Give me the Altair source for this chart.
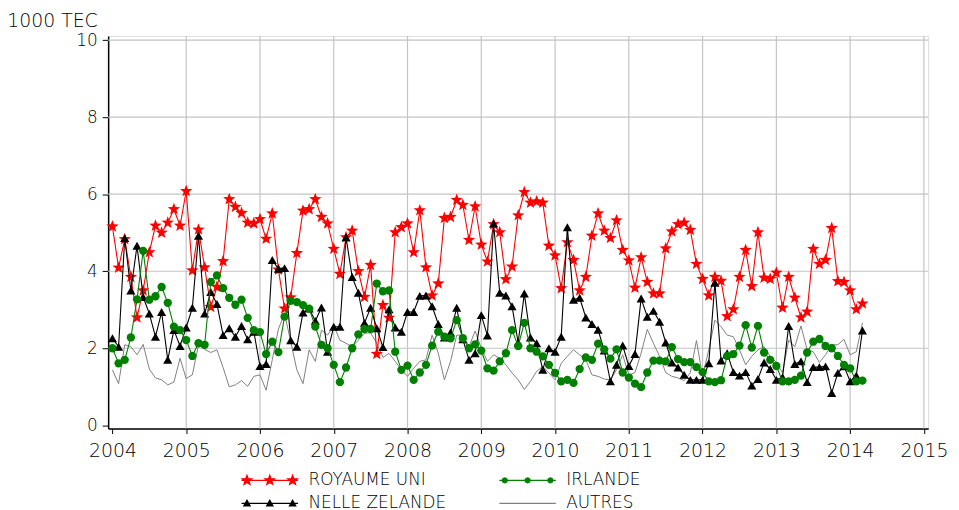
import math
import altair as alt
import pandas as pd

# ---------------- data (1000 TEC, monthly, Jan 2004 -> Mar 2014) ----------------
premier_annee = 2004

royaume_uni = [5.16, 4.09, 4.83, 3.85, 2.80, 3.50, 4.49, 5.18, 5.00, 5.26, 5.61, 5.18,
               6.08, 4.02, 5.08, 4.10, 3.07, 3.59, 4.26, 5.87, 5.67, 5.51, 5.26, 5.24,
               5.35, 4.84, 5.50, 4.04, 3.03, 3.32, 4.47, 5.57, 5.61, 5.87, 5.41, 5.24,
               4.58, 3.93, 4.88, 5.05, 4.00, 3.33, 4.16, 1.85, 3.12, 2.79, 5.01, 5.14,
               5.24, 4.49, 5.58, 4.10, 3.37, 3.68, 5.38, 5.41, 5.85, 5.72, 4.81, 5.68,
               4.69, 4.25, 5.22, 5.01, 3.79, 4.12, 5.45, 6.05, 5.78, 5.81, 5.78, 4.66,
               4.41, 3.56, 4.75, 4.29, 3.50, 3.85, 4.92, 5.50, 5.05, 4.86, 5.32, 4.55,
               4.28, 3.57, 4.36, 3.72, 3.42, 3.42, 4.59, 5.03, 5.22, 5.26, 5.07, 4.19,
               3.80, 3.37, 3.85, 3.75, 2.83, 3.01, 3.85, 4.55, 3.61, 5.01, 3.83, 3.80,
               3.96, 3.05, 3.85, 3.31, 2.80, 2.95, 4.58, 4.19, 4.29, 5.12, 3.74, 3.72,
               3.50, 3.01, 3.16]

nelle_zelande = [2.26, 2.04, 4.86, 3.50, 4.66, 3.33, 2.90, 2.30, 2.94, 1.70, 2.47, 2.06,
                 2.54, 3.05, 4.92, 2.90, 3.46, 3.15, 2.34, 2.52, 2.30, 2.58, 2.23, 2.43,
                 1.54, 1.59, 4.29, 4.06, 4.08, 2.21, 2.04, 2.93, 3.03, 2.71, 3.06, 1.91,
                 2.56, 2.56, 4.88, 3.85, 3.44, 2.66, 3.05, 2.52, 2.03, 3.01, 2.54, 2.43,
                 2.94, 2.94, 3.36, 3.37, 3.09, 2.63, 2.28, 2.41, 3.05, 2.23, 1.70, 1.87,
                 2.86, 2.33, 5.24, 3.44, 3.37, 3.09, 2.15, 3.42, 2.28, 2.13, 1.44, 2.00,
                 1.91, 2.30, 5.14, 3.26, 3.31, 2.80, 2.63, 2.48, 1.94, 1.14, 1.57, 2.07,
                 1.54, 1.85, 3.29, 2.82, 2.97, 2.69, 2.15, 1.63, 1.50, 1.31, 1.18, 1.18,
                 1.18, 1.61, 3.70, 1.68, 1.87, 1.38, 1.29, 1.38, 1.03, 1.20, 1.63, 1.46,
                 1.18, 1.25, 2.58, 1.59, 1.66, 1.12, 1.51, 1.51, 1.53, 0.84, 1.36, 1.53,
                 1.14, 1.29, 2.46]

irlande = [2.00, 1.61, 1.70, 2.28, 3.27, 4.53, 3.26, 3.35, 3.59, 3.18, 2.56, 2.47,
           2.21, 1.80, 2.13, 2.09, 3.72, 3.89, 3.56, 3.31, 3.13, 3.26, 2.79, 2.47,
           2.42, 1.85, 2.17, 1.90, 2.82, 3.23, 3.20, 3.12, 3.03, 2.56, 2.09, 2.00,
           1.57, 1.12, 1.50, 2.00, 2.36, 2.50, 2.50, 3.68, 3.48, 3.50, 1.91, 1.44,
           1.55, 1.18, 1.37, 1.57, 2.07, 2.43, 2.30, 2.26, 2.73, 2.26, 2.00, 2.10,
           1.94, 1.48, 1.42, 1.66, 1.87, 2.47, 2.06, 2.66, 2.00, 1.91, 1.79, 1.57,
           1.36, 1.14, 1.18, 1.10, 1.46, 1.76, 1.70, 2.12, 1.97, 1.73, 1.97, 1.37,
           1.24, 1.08, 0.99, 1.37, 1.68, 1.68, 1.66, 2.03, 1.72, 1.64, 1.64, 1.51,
           1.38, 1.14, 1.12, 1.17, 1.80, 1.85, 2.07, 2.60, 2.02, 2.58, 1.89, 1.70,
           1.54, 1.14, 1.14, 1.18, 1.29, 1.89, 2.17, 2.24, 2.06, 2.00, 1.80, 1.57,
           1.48, 1.14, 1.16]

autres = [1.44, 1.08, 2.09, 2.04, 1.83, 2.10, 1.46, 1.23, 1.18, 1.05, 1.12, 1.74,
          1.21, 1.31, 2.09, 1.97, 1.89, 1.96, 1.50, 1.00, 1.05, 1.16, 1.01, 1.27,
          1.31, 0.91, 1.70, 2.50, 2.90, 2.17, 1.44, 1.08, 1.96, 1.66, 2.47, 2.34,
          2.58, 2.21, 2.13, 2.04, 2.21, 2.39, 2.40, 2.13, 1.76, 1.87, 1.66, 1.44,
          1.27, 1.48, 1.66, 1.70, 2.34, 1.87, 1.18, 1.66, 2.34, 2.34, 2.04, 2.45,
          2.00, 1.66, 1.83, 1.74, 1.57, 1.36, 1.18, 0.93, 1.14, 1.40, 1.53, 1.36,
          1.18, 1.61, 1.79, 1.96, 1.83, 1.70, 1.31, 1.27, 1.20, 1.18, 1.44, 1.83,
          1.31, 1.37, 1.87, 2.49, 2.13, 1.79, 1.37, 1.27, 1.23, 1.16, 1.36, 2.20,
          1.27, 1.96, 2.73, 2.56, 2.34, 2.30, 1.96, 1.57, 1.79, 1.96, 2.04, 1.79,
          1.63, 1.36, 2.21, 2.04, 2.58, 1.96, 1.91, 1.63, 1.83, 2.09, 2.09, 2.23,
          1.83, 1.91, 2.66]

# legend order (filled column by column): ROYAUME UNI / NELLE ZELANDE | IRLANDE / AUTRES
pays = ["ROYAUME UNI", "NELLE ZELANDE", "IRLANDE", "AUTRES"]
couleurs = ["#ff0000", "#000000", "#008000", "#808080"]
annees_axe = list(range(2004, 2016))
annees_grille = list(range(2005, 2016))
graduations_y = [0, 2, 4, 6, 8, 10]
grille_y = [2, 4, 6, 8, 10]

series = {"ROYAUME UNI": royaume_uni, "NELLE ZELANDE": nelle_zelande,
          "IRLANDE": irlande, "AUTRES": autres}
rows = []
for nom, vals in series.items():
    for m, v in enumerate(vals):
        rows.append({"date": premier_annee + m / 12.0, "valeur": v, "pays": nom})
df = pd.DataFrame(rows)

# ---------------- symbol paths (Vega has no built-in star) ----------------
def star(cx=0.0, r_out=1.0, r_in=0.42):
    pts = []
    for i in range(10):
        a = -math.pi / 2 + i * math.pi / 5
        r = r_out if i % 2 == 0 else r_in
        pts.append((cx + r * math.cos(a), r * math.sin(a)))
    return "M" + "L".join(f"{x:.3f},{y:.3f}" for x, y in pts) + "Z"

def circ(cx, r=0.5, n=12):
    pts = [(cx + r * math.cos(2 * math.pi * i / n), r * math.sin(2 * math.pi * i / n))
           for i in range(n)]
    return "M" + "L".join(f"{x:.3f},{y:.3f}" for x, y in pts) + "Z"

def tri(cx, r=0.62):
    return f"M{cx:.3f},{-r:.3f}L{cx + r:.3f},{r * 0.75:.3f}L{cx - r:.3f},{r * 0.75:.3f}Z"

ETOILE = star()
ligne = "M-5.7,0L5.7,0"
pos = [-4.6, 0, 4.6]
p_ru = ligne + "".join(star(c) for c in pos)
p_irl = ligne + "".join(circ(c) for c in pos)
p_nz = ligne + "".join(tri(c) for c in pos)

sym_expr = (f"datum.value == 'ROYAUME UNI' ? '{p_ru}' : "
            f"datum.value == 'IRLANDE' ? '{p_irl}' : "
            f"datum.value == 'NELLE ZELANDE' ? '{p_nz}' : '{ligne}'")
fill_expr = ("datum.value == 'ROYAUME UNI' ? '#ff0000' : "
             "datum.value == 'IRLANDE' ? '#008000' : "
             "datum.value == 'NELLE ZELANDE' ? '#000000' : 'transparent'")

# ---------------- scales / axes ----------------
GRID = "#c4c4c4"
FONT = "DejaVu Sans"

xs = alt.Scale(domain=[2003.942, 2015.058], nice=False, zero=False)
ys = alt.Scale(domain=[-0.085, 10.11], nice=False, zero=False)
xa = alt.Axis(values=annees_axe, format="d", title=None, grid=False,
              domainColor="black", domainWidth=1.5,
              tickColor="black", tickWidth=1, tickSize=5,
              labelFont=FONT, labelFontSize=19, labelFontWeight=200,
              labelColor="black", labelPadding=8,
              labelFlush=False, labelOverlap=False)
ya = alt.Axis(values=graduations_y, format="d", title="1000 TEC", grid=False,
              domainColor="black", domainWidth=1.5,
              tickColor="black", tickWidth=1, tickSize=6,
              labelFont=FONT, labelFontSize=17, labelFontWeight=200,
              labelColor="black", labelPadding=5,
              titleAngle=0, titleX=-11, titleY=-9, titleAlign="right",
              titleBaseline="alphabetic", titleFont=FONT,
              titleFontSize=19, titleFontWeight=200, titleColor="black")

def X():
    return alt.X("date:Q", scale=xs, axis=xa)

def Y():
    return alt.Y("valeur:Q", scale=ys, axis=ya)

color_scale = alt.Scale(domain=pays, range=couleurs)

leg = alt.Legend(title=None, orient="none", legendX=132.5, legendY=439.5,
                 columns=2, columnPadding=50, rowPadding=5.5, padding=0,
                 symbolSize=100, symbolStrokeWidth=1.3,
                 symbolType={"expr": sym_expr},
                 symbolFillColor={"expr": fill_expr},
                 symbolOffset=22, labelOffset=30.5,
                 labelFont=FONT, labelFontSize=17, labelFontWeight=200,
                 labelColor="black")

vgrid = alt.Chart(pd.DataFrame({"date": annees_grille})).mark_rule(
    color=GRID, strokeWidth=1.2).encode(x=X())
hgrid = alt.Chart(pd.DataFrame({"valeur": grille_y})).mark_rule(
    color=GRID, strokeWidth=1.2).encode(y=Y())

def couches(nom, forme=None, taille=None, epaisseur=1.1, legende=None):
    d = df[df["pays"] == nom].reset_index(drop=True)
    out = [alt.Chart(d).mark_line(strokeWidth=epaisseur).encode(
        x=X(), y=Y(),
        color=alt.Color("pays:N", scale=color_scale, legend=legende))]
    if forme:
        out.append(alt.Chart(d).mark_point(filled=True, opacity=1, shape=forme,
                                           size=taille).encode(
            x=X(), y=Y(),
            color=alt.Color("pays:N", scale=color_scale, legend=None)))
    return out

layers = [vgrid, hgrid]
layers += couches("AUTRES", epaisseur=1.0, legende=leg)
layers += couches("ROYAUME UNI", ETOILE, 170)
layers += couches("NELLE ZELANDE", "triangle-up", 85)
layers += couches("IRLANDE", "circle", 70)

chart = alt.layer(*layers).properties(
    width=827, height=396,
    autosize=alt.AutoSizeParams(type="none"),
    padding={"left": 101, "top": 26, "right": 23, "bottom": 80},
    title=alt.TitleParams(text="Importations de viandes d'ovins et caprins par pays d'origine",
                          anchor="start", frame="group", dx=-116.5, dy=12, offset=0,
                          font="Liberation Sans", fontSize=26.8, fontWeight="bold",
                          color="black", baseline="alphabetic"),
).configure_view(stroke=None).configure(background="white")

chart.save("out.html", embed_options={"renderer": "svg", "actions": False})
